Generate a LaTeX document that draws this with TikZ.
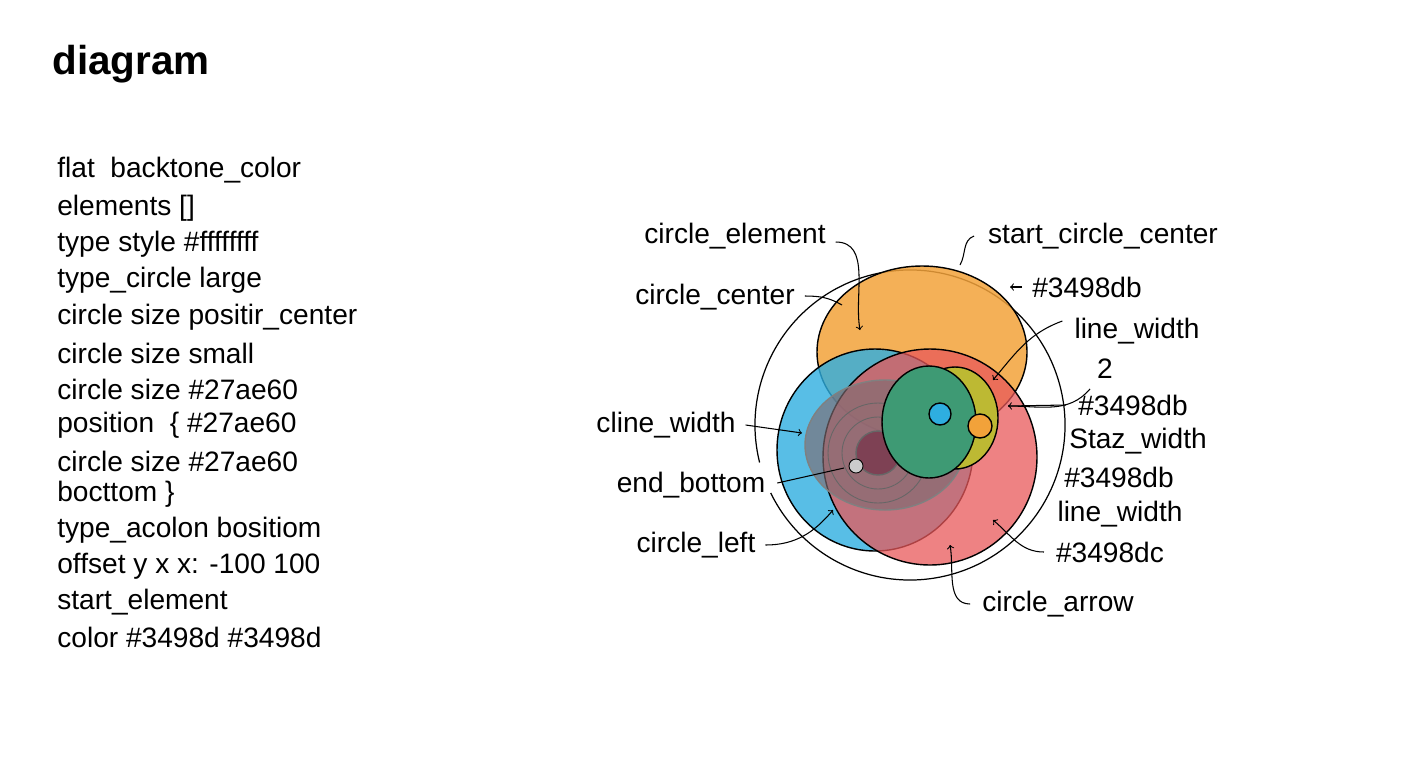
\documentclass[tikz,border=0pt]{standalone}
\usepackage{fontspec}
\setmainfont{Liberation Sans}
\usepackage{tikz}
\usetikzlibrary{arrows,shapes,positioning}
\definecolor{corange}{HTML}{F2A23A}
\definecolor{cblue}{HTML}{2EAEE0}
\definecolor{cred}{HTML}{E8585A}
\definecolor{cgreen}{HTML}{3E9A74}
\definecolor{cyell}{HTML}{BDB933}
\definecolor{cdark}{HTML}{7A3A4E}
\newcommand{\px}{0.02cm}
\tikzset{
	txt/.style = {inner sep=0pt, anchor=west, font=\fontsize{16}{20}\selectfont},
	lbl/.style = {inner sep=1pt, font=\fontsize{16}{20}\selectfont},
	blob/.style = {draw=black, line width=0.8pt, fill opacity=0.85, inner sep=0pt},
	ring/.style = {draw=black!60, line width=0.5pt, inner sep=0pt},
	pointer/.style = {-{to[scale=1.6]}, line width=0.6pt},
	leader/.style = {line width=0.6pt}
}

\begin{document}
\begin{tikzpicture}[x=0.02cm, y=-0.02cm]
	\useasboundingbox (0,0) rectangle (1408,768);
	\node [inner sep=0pt, anchor=west, font=\fontsize{23}{28}\selectfont\bfseries] (title) at (52,64) {diagram};
	% settings list
	\foreach \i/\y/\t in {1/170/{flat\ \ backtone\_color}, 2/208/{elements []}, 3/244/{type style \#ffffffff},
		4/280/{type\_circle large}, 5/317/{circle size positir\_center}, 6/353/{circle size small},
		7/389/{circle size \#27ae60}, 8/425/{position \ \{ \#27ae60}, 9/461/{circle size \#27ae60},
		10/494/{bocttom \}}, 11/530/{type\_acolon bositiom}, 12/566/{offset y x x: -100 100},
		13/602/{start\_element}, 14/637/{color \#3498d \#3498d}}
		\node [txt] (row\i) at (57,\y) {\t};
	% circles
	\draw [line width=0.7pt] (910,425) ++(166:155) arc[start angle=166, end angle=514, radius=155];
	\node [blob, ellipse, fill=corange, minimum width=210*\px, minimum height=172*\px] (orange) at (922,352) {};
	\node [blob, ellipse, fill=cblue, fill opacity=0.8, minimum width=196*\px, minimum height=202*\px] (blue) at (875,450) {};
	\node [blob, ellipse, fill=cred, fill opacity=0.75, minimum width=214*\px, minimum height=216*\px] (red) at (930,457) {};
	\node [blob, ellipse, draw=black!50, fill=cdark!30!gray, fill opacity=0.65, minimum width=160*\px, minimum height=130*\px] (shade) at (885,445) {};
	\node [ring, circle, minimum size=100*\px] (ring2) at (878,453) {};
	\node [ring, circle, minimum size=72*\px] (ring1) at (878,453) {};
	\node [blob, circle, draw=black!60, fill=cdark, minimum size=44*\px] (core) at (878,453) {};
	\node [blob, ellipse, fill=cyell, fill opacity=1, minimum width=86*\px, minimum height=102*\px] (yellow) at (955,418) {};
	\node [blob, ellipse, fill=cgreen, fill opacity=1, minimum width=94*\px, minimum height=112*\px] (green) at (929,422) {};
	\node [blob, circle, fill=cblue, fill opacity=1, minimum size=22*\px] (dotblue) at (940,414) {};
	\node [blob, circle, fill=corange, fill opacity=1, minimum size=24*\px] (dotorange) at (980,426) {};
	\node [blob, circle, fill=black!20, fill opacity=1, minimum size=14*\px, line width=0.5pt] (dotgrey) at (856,466) {};
	% labels
	\node [lbl] (lelement) at (735,236) {circle\_element};
	\node [lbl] (lstart) at (1103,236) {start\_circle\_center};
	\node [lbl] (lcenter) at (715,297) {circle\_center};
	\node [lbl] (lhexa) at (1087,287) {\#3498db};
	\node [lbl] (llinea) at (1137,331) {line\_width};
	\node [lbl] (ltwo) at (1105,369) {2};
	\node [lbl] (lhexb) at (1133,405) {\#3498db};
	\node [lbl] (lstaz) at (1138,441) {Staz\_width};
	\node [lbl] (lhexc) at (1119,477) {\#3498db};
	\node [lbl] (llineb) at (1120,514) {line\_width};
	\node [lbl] (lhexd) at (1110,552) {\#3498dc};
	\node [lbl] (larrow) at (1058,604) {circle\_arrow};
	\node [lbl] (lcline) at (666,425) {cline\_width};
	\node [lbl] (lend) at (691,485) {end\_bottom};
	\node [lbl] (lleft) at (696,545) {circle\_left};
	\coordinate (pelement) at (860,330);
	\coordinate (pstart) at (960,265);
	\coordinate (pcenter) at (842,305);
	\coordinate (phexa) at (1010,287);
	\coordinate (plinea) at (993,380);
	\coordinate (phexb) at (1008,406);
	\coordinate (plineb) at (993,520);
	\coordinate (parrow) at (950,545);
	\coordinate (pcline) at (802,433);
	\coordinate (pend) at (844,468);
	\coordinate (pleft) at (833,510);
	% connectors
	\draw [pointer] (lelement.east) ++(8,6) to[out=0, in=100] (pelement);
	\draw [leader] (lstart.west) ++(-12,0) to[out=200, in=60] (pstart);
	\draw [leader] (lcenter.east) ++(8,-1) to[out=0, in=150] (pcenter);
	\draw [pointer] (lhexa.west) ++(-8,0) -- (phexa);
	\draw [pointer] (llinea.west) ++(-10,-10) to[out=200, in=50] (plinea);
	\draw [leader] (ltwo.south) ++(-15,8) to[out=230, in=0] (phexb);
	\draw [pointer] (lhexb.west) ++(-10,0) -- (phexb);
	\draw [pointer] (lhexd.west) ++(-10,0) to[out=180, in=-40] (plineb);
	\draw [pointer] (larrow.west) ++(-10,0) to[out=180, in=-80] (parrow);
	\draw [pointer] (lcline.east) ++(8,0) -- (pcline);
	\draw [leader] (lend.east) ++(10,-2) -- (pend);
	\draw [pointer] (lleft.east) ++(8,0) to[out=0, in=-130] (pleft);
\end{tikzpicture}
\end{document}
